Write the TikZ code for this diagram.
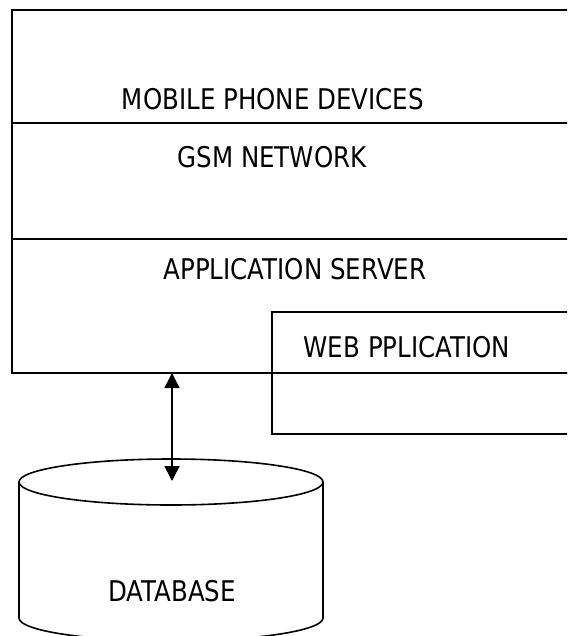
\documentclass[tikz,border=0pt]{standalone}
\usepackage{fontspec}
\setmainfont[FakeStretch=0.86]{DejaVu Sans}
\usetikzlibrary{arrows.meta}
\begin{document}
\begin{tikzpicture}[x=1pt,y=-1pt,
  ln/.style={line width=1.6pt},
  lbl/.style={font=\fontsize{28.5}{30}\selectfont,inner sep=0pt,anchor=base},
  link/.style={line width=1.6pt,{Triangle[length=15pt,width=15pt]}-{Triangle[length=15pt,width=15pt]}}]
\useasboundingbox (0,0) rectangle (567,636);
\clip (0,0) rectangle (567,636);
% main stacked box
\draw[ln] (12,10) rectangle (600,373);
\draw[ln] (12,123) -- (600,123);
\draw[ln] (12,239) -- (600,239);
\node[lbl] (mobile) at (273,110) {MOBILE PHONE DEVICES};
\node[lbl] (gsm) at (272,168) {GSM NETWORK};
\node[lbl] (appserver) at (295,279) {APPLICATION SERVER};
% web application box
\draw[ln,fill=white] (272,312) rectangle (600,434);
\draw[ln] (272,373) -- (600,373);
\node[lbl] (web) at (407,357) {WEB PPLICATION};
% database cylinder
\draw[ln,fill=white] (19,482) -- (19,618) arc[start angle=180,end angle=0,x radius=152,y radius=23] -- (323,482);
\draw[ln,fill=white] (171,482) ellipse[x radius=152,y radius=23];
\node[lbl] (db) at (172,601) {DATABASE};
\coordinate (apptop) at (172,373);
\coordinate (dbtop) at (172,481);
\draw[link] (apptop) -- (dbtop);
\end{tikzpicture}
\end{document}
